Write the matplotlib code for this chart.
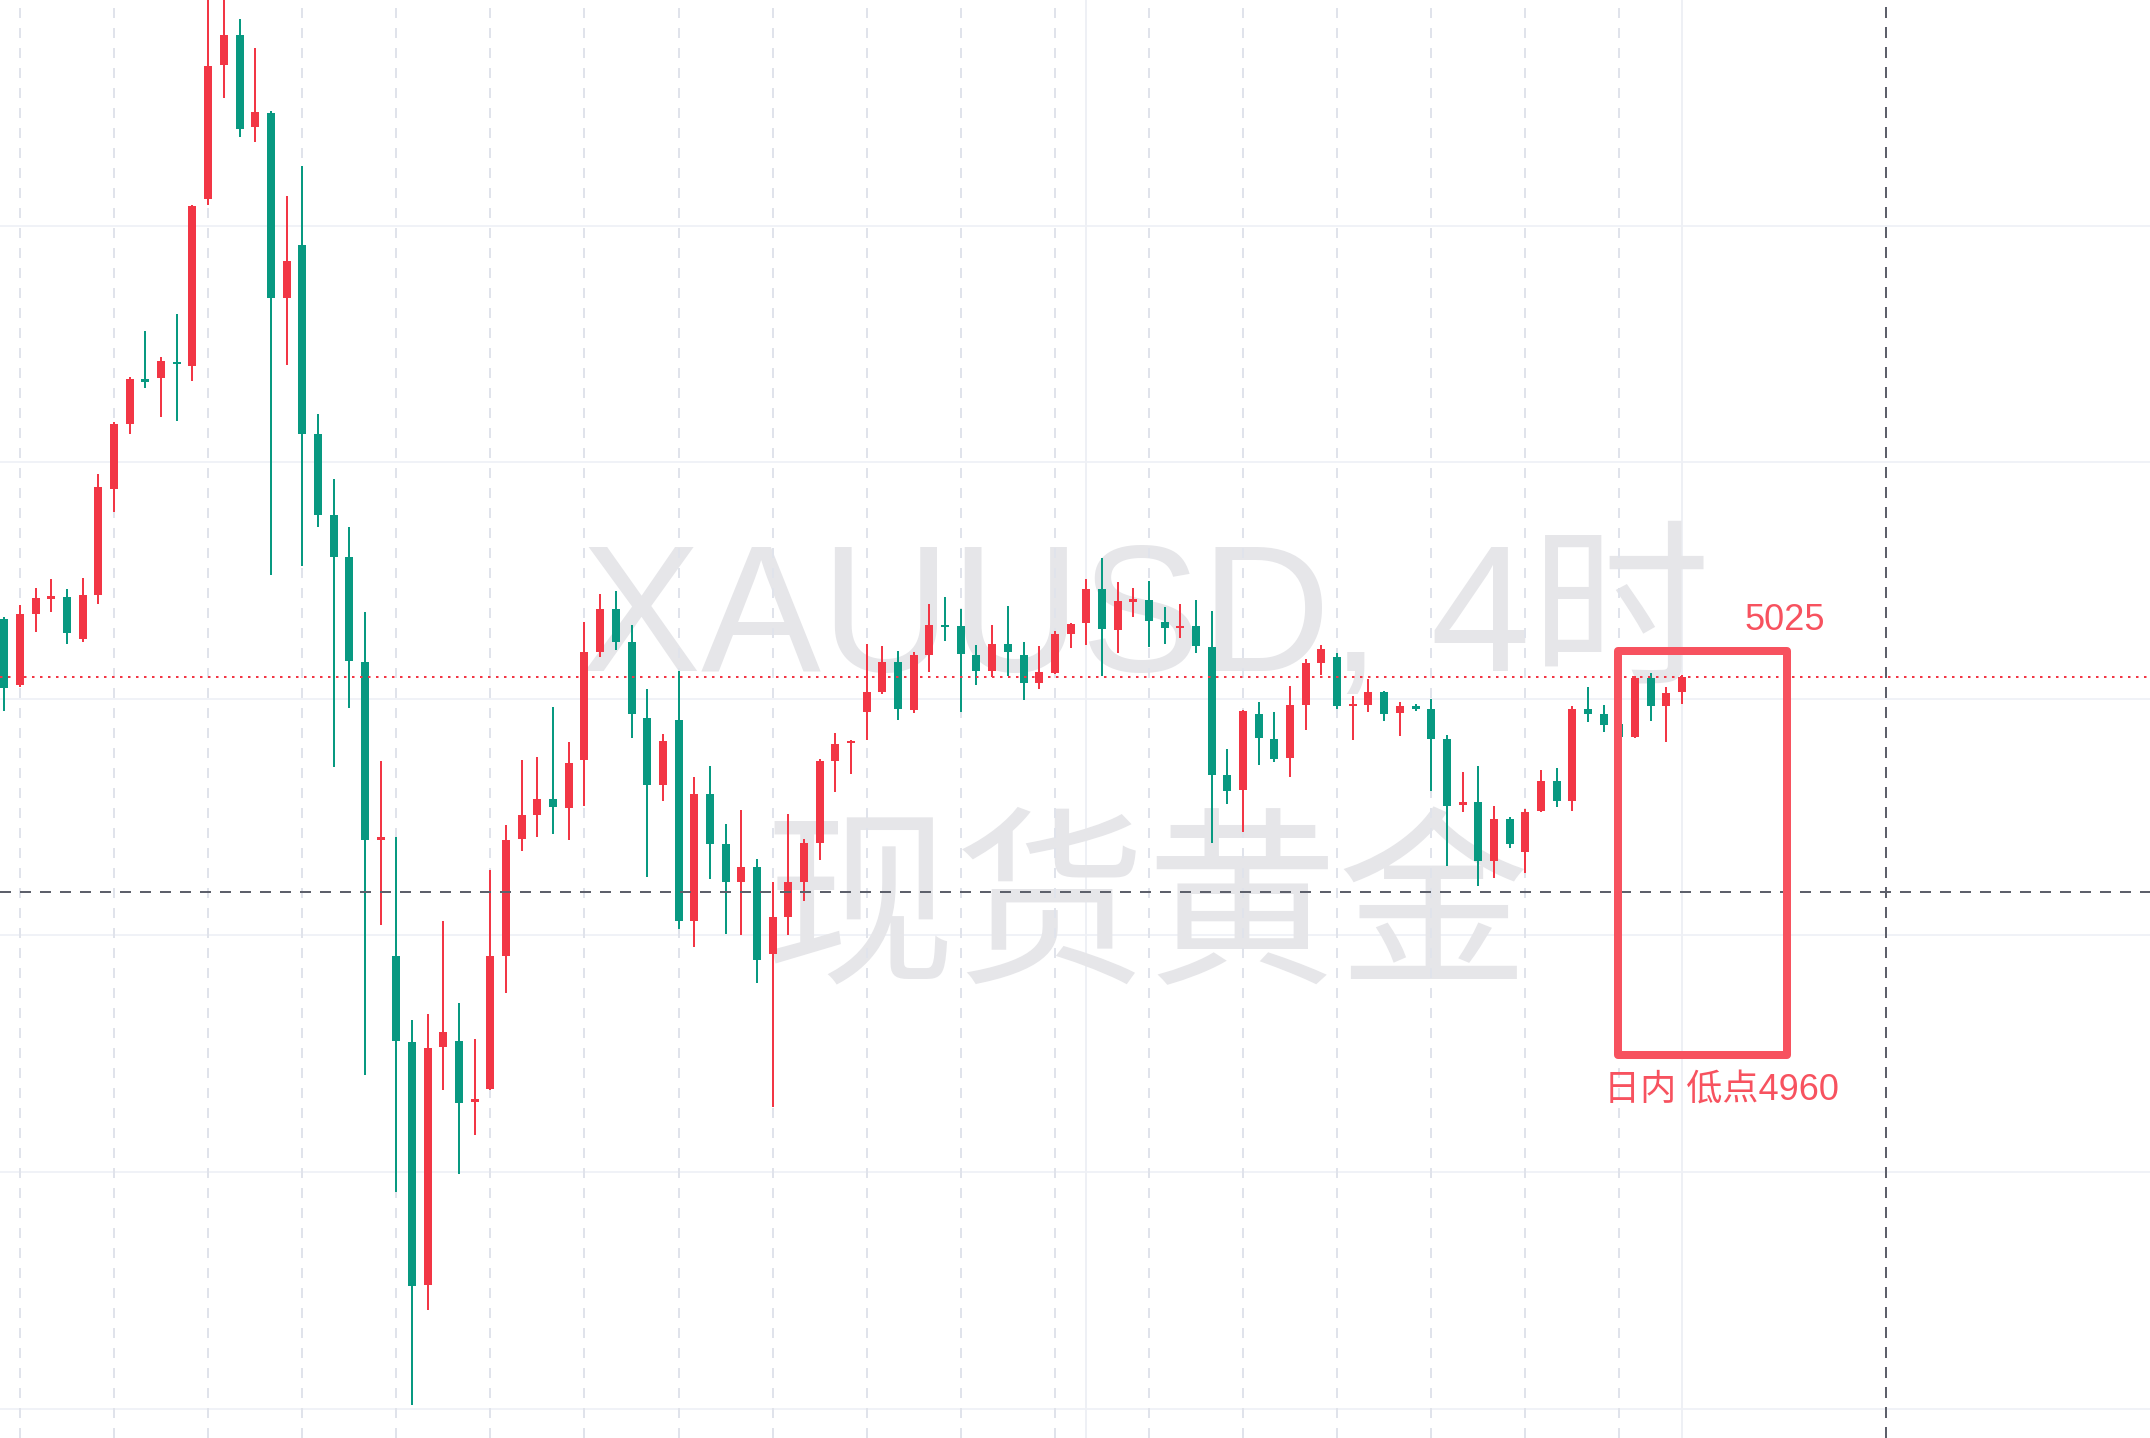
import numpy as np
import matplotlib
matplotlib.use("Agg")
import matplotlib.pyplot as plt
from matplotlib.patches import Rectangle

# XAUUSD 4H candles (red = up, green = down)
opens = [5033.5, 5022.3, 5034.3, 5036.9, 5037.2, 5030.1, 5037.5, 5055.5, 5066.4, 5074.1,
         5074.3, 5076.9, 5076.3, 5104.5, 5127.1, 5132.3, 5116.7, 5119.1, 5087.8, 5096.7,
         5064.8, 5051.0, 5043.9, 5026.3, 4996.1, 4976.6, 4962.0, 4920.9, 4961.1, 4962.2,
         4951.8, 4954.1, 4976.6, 4996.3, 5000.3, 5003.1, 5001.6, 5009.6, 5027.9, 5035.2,
         5029.6, 5016.7, 5005.4, 5016.4, 4982.5, 5003.9, 4995.4, 4989.0, 4991.6, 4976.9,
         4983.1, 4989.0, 4995.7, 5009.5, 5012.5, 5017.8, 5021.1, 5026.2, 5018.1, 5027.4,
         5032.5, 5032.3, 5027.4, 5024.7, 5029.3, 5027.4, 5022.6, 5024.3, 5031.0, 5032.8,
         5038.5, 5031.6, 5036.4, 5036.7, 5032.9, 5031.9, 5032.3, 5028.7, 5007.1, 5004.6,
         5017.5, 5013.2, 5010.0, 5018.9, 5026.1, 5027.1, 5018.7, 5018.9, 5021.1, 5017.6,
         5018.8, 5018.2, 5013.2, 5002.0, 5002.5, 4992.5, 4999.7, 4994.1, 5001.0, 5006.1,
         5002.8, 5018.2, 5017.4, 5015.7, 5013.6, 5023.5, 5018.7, 5021.2]
highs = [5033.8, 5035.8, 5038.8, 5040.2, 5038.5, 5040.5, 5058.0, 5066.8, 5074.4, 5082.2,
         5077.8, 5085.1, 5103.5, 5142.0, 5145.0, 5135.0, 5130.1, 5119.3, 5105.0, 5110.1,
         5068.2, 5057.2, 5049.0, 5034.7, 5009.5, 4996.7, 4965.7, 4966.7, 4982.5, 4968.5,
         4962.5, 4991.0, 4998.6, 5009.6, 5010.2, 5018.6, 5012.7, 5033.0, 5037.8, 5038.3,
         5032.4, 5021.6, 5014.1, 5024.7, 5006.8, 5008.7, 4998.9, 5001.2, 4992.9, 4989.0,
         5000.5, 4996.3, 5009.8, 5014.3, 5013.0, 5029.2, 5028.9, 5028.0, 5027.9, 5036.0,
         5037.2, 5035.2, 5029.1, 5032.5, 5035.7, 5029.6, 5028.9, 5031.4, 5032.8, 5040.3,
         5043.8, 5039.8, 5038.7, 5039.9, 5035.5, 5036.0, 5036.7, 5034.8, 5011.5, 5018.1,
         5019.5, 5017.7, 5022.2, 5026.8, 5029.1, 5027.8, 5020.5, 5023.4, 5021.4, 5019.5,
         5019.1, 5020.0, 5013.9, 5007.7, 5008.6, 5001.8, 5000.0, 5001.4, 5007.9, 5008.3,
         5018.7, 5022.0, 5019.0, 5016.1, 5023.8, 5024.3, 5022.0, 5024.0]
lows = [5018.0, 5022.0, 5031.3, 5034.6, 5029.3, 5029.6, 5036.0, 5051.5, 5064.8, 5072.6,
        5067.6, 5067.0, 5073.8, 5103.4, 5121.6, 5114.9, 5114.1, 5040.9, 5076.4, 5042.5,
        5049.0, 5008.5, 5018.5, 4956.4, 4981.7, 4936.7, 4900.6, 4916.7, 4953.8, 4939.7,
        4946.2, 4953.9, 4970.2, 4994.3, 4996.6, 4997.1, 4996.1, 5001.9, 5027.1, 5028.2,
        5013.3, 4989.9, 5002.8, 4981.1, 4978.0, 4989.6, 4980.3, 4980.0, 4971.9, 4951.0,
        4980.0, 4985.9, 4992.7, 5004.2, 5007.3, 5013.0, 5020.8, 5016.5, 5017.6, 5024.6,
        5029.7, 5017.8, 5022.3, 5023.7, 5023.9, 5019.8, 5021.6, 5024.2, 5028.6, 5029.1,
        5023.8, 5027.7, 5033.9, 5028.7, 5029.3, 5030.3, 5027.7, 4995.6, 5002.2, 4997.4,
        5008.8, 5009.3, 5006.8, 5014.7, 5024.1, 5018.2, 5013.0, 5017.7, 5016.3, 5013.7,
        5017.9, 5004.4, 4991.7, 5000.8, 4988.3, 4989.7, 4994.7, 4990.6, 5000.8, 5001.7,
        5001.1, 5016.1, 5014.4, 5013.5, 5013.3, 5016.3, 5012.7, 5019.2]
closes = [5021.9, 5034.3, 5037.1, 5037.4, 5031.2, 5037.5, 5055.8, 5066.5, 5074.0, 5073.5,
          5077.1, 5076.6, 5103.3, 5127.0, 5132.3, 5116.4, 5119.2, 5087.8, 5094.0, 5064.8,
          5051.0, 5043.9, 5026.4, 4996.1, 4996.6, 4962.2, 4920.8, 4960.9, 4963.7, 4951.6,
          4952.3, 4976.6, 4996.1, 5000.3, 5003.1, 5001.7, 5009.2, 5027.9, 5035.2, 5029.6,
          5017.4, 5005.4, 5012.9, 4982.5, 5003.9, 4995.4, 4989.0, 4991.5, 4975.8, 4983.1,
          4989.0, 4995.7, 5009.5, 5012.4, 5012.9, 5021.2, 5026.2, 5018.2, 5027.4, 5032.5,
          5032.1, 5027.5, 5024.7, 5029.3, 5027.9, 5022.6, 5024.5, 5031.0, 5032.7, 5038.5,
          5031.8, 5036.5, 5036.8, 5033.2, 5031.9, 5032.3, 5028.9, 5007.1, 5004.4, 5017.9,
          5013.4, 5009.8, 5018.9, 5026.1, 5028.5, 5018.8, 5019.0, 5021.1, 5017.5, 5018.8,
          5018.2, 5013.2, 5001.8, 5002.5, 4992.6, 4999.7, 4995.5, 5000.9, 5006.1, 5002.8,
          5018.2, 5017.5, 5015.5, 5013.6, 5023.6, 5018.7, 5020.9, 5023.7]

price_grid = [4900, 4940, 4980, 5020, 5060, 5100, 5140]
session_bars = list(range(1, 104, 6))   # dashed day separators
time_grid_bars = [69, 107]

box_left, box_right = 102.9, 113.7
box_low, box_high = 4959.7, 5028.0
label_high = "5025"
label_low = "日内 低点4960"
crosshair_bar, crosshair_price = 120, 4987.3

UP = "#f23645"
DOWN = "#089981"
BOX = "#f7525f"

o = np.array(opens)
h = np.array(highs)
l = np.array(lows)
c = np.array(closes)
x = np.arange(len(o))
up = c >= o
cols = np.where(up, UP, DOWN)

fig = plt.figure(figsize=(21.5, 14.38), dpi=100)
ax = fig.add_axes([0, 0, 1, 1])
ax.set_xlim(-0.2755, 136.84)
ax.set_ylim(4895.03, 5138.14)
ax.axis("off")

px = 72 / 100  # points per pixel

# grid
for p in price_grid:
    ax.axhline(p, color="#f0f2f7", lw=2 * px, zorder=0)
for b in time_grid_bars:
    ax.axvline(b, color="#eef0f5", lw=2 * px, zorder=0)

# watermark
ax.text(72.8, 5024.7, "XAUUSD, 4时", fontsize=129.5, color="#e6e6e9",
        family=["Liberation Sans", "Noto Sans CJK SC"], ha="center", va="baseline", zorder=0.5)
ax.text(72.88, 4983.6, "现货黄金", fontsize=138, color="#e6e6e9",
        family=["Noto Sans CJK SC"], ha="center", va="center", zorder=0.5)

for b in session_bars:
    ax.axvline(b, color="#e0e3eb", lw=2 * px, linestyle=(0, (5, 5)), zorder=0.8)

# candles
ax.vlines(x, l, h, colors=cols, lw=2 * px, zorder=2)
body_lo = np.minimum(o, c)
body_h = np.maximum(np.abs(c - o), 0.34)
ax.bar(x, body_h, bottom=body_lo, width=0.51, color=cols, linewidth=0, zorder=3)

# last price line
ax.axhline(c[-1], color=UP, lw=2 * px, linestyle=(0, (1.25, 2.75)), zorder=4)

# crosshair
ax.axhline(crosshair_price, color="#5d606b", lw=2 * px, linestyle=(0, (5.5, 4.5)), zorder=4)
ax.axvline(crosshair_bar, color="#5d606b", lw=2 * px, linestyle=(0, (5.5, 4.5)), zorder=4)

# annotation box and labels
ax.add_patch(Rectangle((box_left, box_low), box_right - box_left, box_high - box_low,
                       fill=False, edgecolor=BOX, lw=8 * px, joinstyle="round", zorder=5))
ax.text(113.56, 5033.3, label_high, fontsize=26, color=BOX,
        family=["Liberation Sans", "Noto Sans CJK SC"], ha="center", va="center", zorder=6)
ax.text(102.02, 4953.9, label_low, fontsize=26, color=BOX,
        family=["Liberation Sans", "Noto Sans CJK SC"], ha="left", va="center", zorder=6)

fig.savefig("out.png", dpi=100, facecolor="white")
